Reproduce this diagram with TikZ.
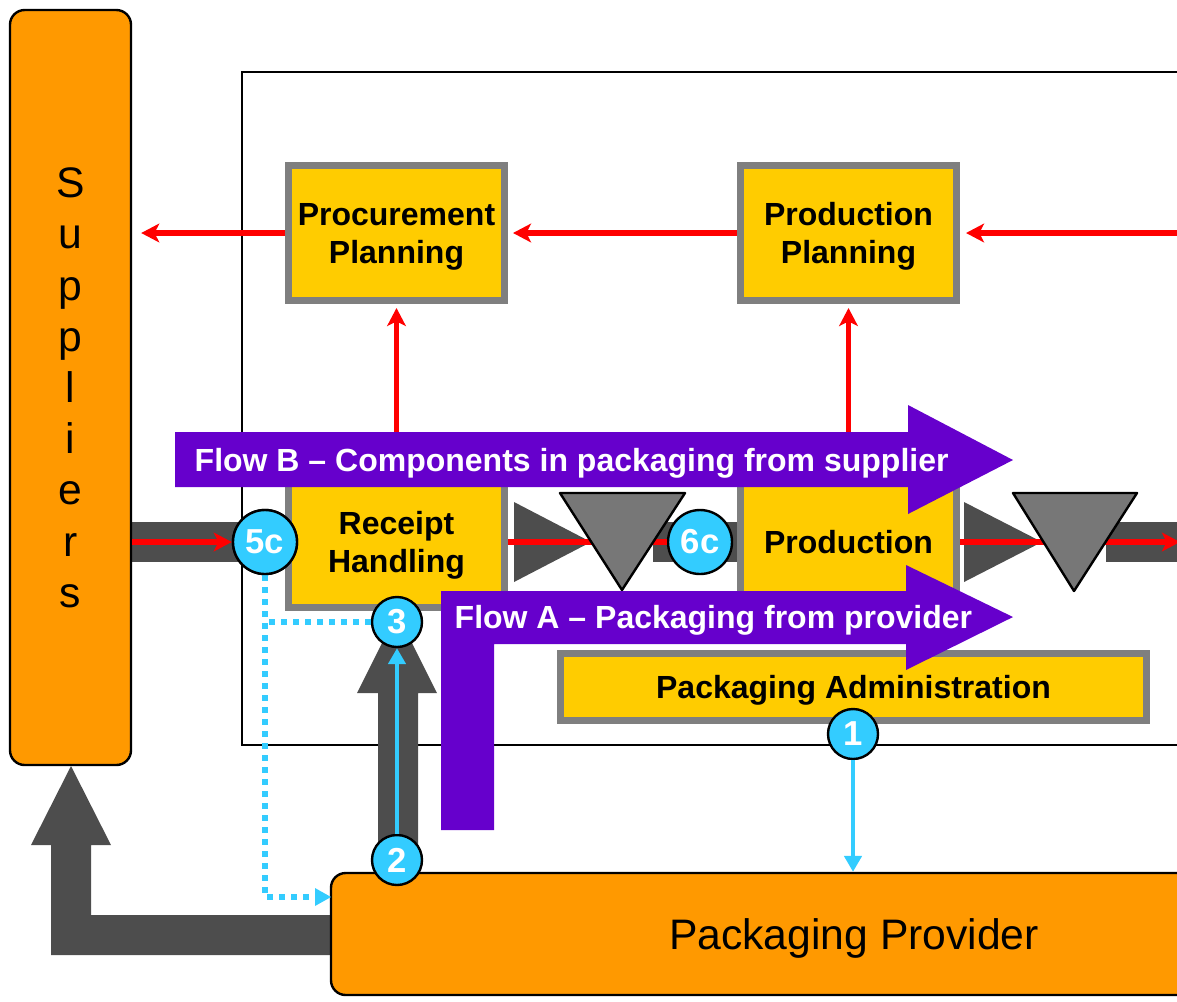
\documentclass[tikz,border=0pt]{standalone}
\usepackage{fontspec}
\setmainfont{Liberation Sans}
\usetikzlibrary{arrows.meta}
\definecolor{partnerorange}{HTML}{FF9900}
\definecolor{unityellow}{HTML}{FFCC00}
\definecolor{unitgray}{HTML}{7F7F7F}
\definecolor{bandgray}{HTML}{4D4D4D}
\definecolor{stockgray}{HTML}{777777}
\definecolor{flowpurple}{HTML}{6600CC}
\definecolor{markerblue}{HTML}{33CCFF}
\definecolor{infored}{HTML}{FF0000}
\begin{document}
\begin{tikzpicture}[x=0.75pt,y=-0.75pt,
    partner/.style={draw=black,line width=1.8pt,fill=partnerorange,rounded corners=11pt,align=center,text depth=0pt,font=\fontsize{32}{38.4}\selectfont},
    unit/.style={draw=unitgray,line width=5.25pt,fill=unityellow,inner sep=0pt,minimum width=162pt,align=center,text depth=0pt,font=\bfseries\fontsize{24}{28.5}\selectfont},
    marker/.style={circle,draw=black,line width=1.8pt,fill=markerblue,inner sep=0pt,text=white,font=\bfseries\fontsize{26}{26}\selectfont},
    bigmarker/.style={marker,minimum size=48pt},
    smallmarker/.style={marker,minimum size=37.5pt},
    infoflow/.style={draw=infored,line width=4.2pt,-{Stealth[length=13.5pt,width=14pt,inset=3.5pt]}},
    signal/.style={draw=markerblue,line width=2.8pt,-{Triangle[length=12pt,width=13pt]}},
    signaldot/.style={draw=markerblue,line width=4.5pt,dash pattern=on 4.5pt off 4.5pt},
    goods/.style={fill=bandgray},
    stock/.style={draw=black,line width=1.8pt,fill=stockgray,line join=round},
    flowtext/.style={anchor=west,text=white,text depth=0pt,font=\bfseries\fontsize{24}{28.5}\selectfont}]
    \useasboundingbox (0,0) rectangle (1177,1001);
    \clip (0,0) rectangle (1177,1001);
    %% plant frame
    \draw[line width=1.8pt] (242,72) rectangle (1200,745);
    %% goods bands and block arrows
    \fill[goods] (131,522) rectangle (265,562);
    \fill[goods] (653,522) rectangle (737,562);
    \fill[goods] (1106,522) rectangle (1180,562);
    \fill[goods] (514,502) -- (591,542) -- (514,582) -- cycle;
    \fill[goods] (964,502) -- (1042,542) -- (964,582) -- cycle;
    \fill[goods] (378,860) -- (378,693) -- (357,693) -- (397,613) -- (437,693) -- (418,693) -- (418,860) -- cycle;
    \fill[goods] (51,955) -- (51,845) -- (31,845) -- (71,766) -- (111,845) -- (91,845) -- (91,915) -- (331,915) -- (331,955) -- cycle;
    %% partners
    \node[partner,minimum width=90.75pt,minimum height=566.25pt] (suppliers) at (70.5,387.5) {S\\u\\p\\p\\l\\i\\e\\r\\s};
    \node[partner,minimum width=784.5pt,minimum height=91.5pt] (provider) at (854,934) {Packaging Provider};
    %% units
    \node[unit,minimum height=101.25pt] (procplan) at (396.5,233) {Procurement\\Planning};
    \node[unit,minimum height=101.25pt] (prodplan) at (848.5,233) {Production\\Planning};
    \node[unit,minimum height=97.5pt] (receipt) at (396.5,542) {Receipt\\Handling};
    \node[unit,minimum height=97.5pt] (production) at (848.5,542) {Production};
    \node[unit,minimum width=439.5pt,minimum height=50.25pt] (admin) at (853.5,687) {Packaging Administration};
    %% information flow
    \draw[infoflow,shorten >=6.75pt] (procplan.west) -- (suppliers.east |- procplan.west);
    \draw[infoflow,shorten >=3.75pt] (prodplan.west) -- (procplan.east);
    \draw[infoflow,shorten >=4.5pt] (1180,233) -- (prodplan.east);
    \draw[infoflow,shorten >=3pt] (receipt.north) -- (procplan.south);
    \draw[infoflow,shorten >=3pt] (production.north) -- (prodplan.south);
    %% markers
    \node[bigmarker] (m5c) at (265,542) {5c};
    \node[bigmarker] (m6c) at (700,542) {6c};
    \draw[infoflow] (suppliers.east |- m5c) -- (m5c.west);
    \draw[infoflow,-] (receipt.east |- m6c) -- (m6c.west);
    \draw[infoflow] (production.east |- m6c) -- (1180,542);
    %% stock points
    \draw[stock] (560,493) -- (685,493) -- (622,590) -- cycle;
    \draw[stock] (1013,493) -- (1137,493) -- (1074,591) -- cycle;
    %% flows
    \fill[flowpurple] (175,432) -- (908,432) -- (908,405) -- (1013,460) -- (908,514) -- (908,487) -- (175,487) -- cycle;
    \node[flowtext] (flowB) at (190,460) {Flow B – Components in packaging from supplier};
    \fill[flowpurple] (441,830) -- (441,591) -- (906,591) -- (906,565) -- (1013,617) -- (906,670) -- (906,644) -- (494,644) -- (494,830) -- cycle;
    \node[flowtext] (flowA) at (450,617) {Flow A – Packaging from provider};
    %% packaging signals
    \node[smallmarker] (m1) at (853,734) {1};
    \node[smallmarker] (m2) at (397,860) {2};
    \node[smallmarker] (m3) at (397,622) {3};
    \coordinate (pin) at (331,897);
    \draw[signaldot] (m3.west) -- (m3.west -| m5c);
    \draw[signaldot] (m5c.south) |- ([xshift=-12pt]pin);
    \fill[markerblue] (pin) -- ++(-16,-9) -- ++(0,18) -- cycle;
    \node[bigmarker] at (m5c) {5c};
    \draw[signal] (m2.north) -- (m3.south);
    \draw[signal] (m1.south) -- (m1.south |- provider.north);
\end{tikzpicture}
\end{document}
